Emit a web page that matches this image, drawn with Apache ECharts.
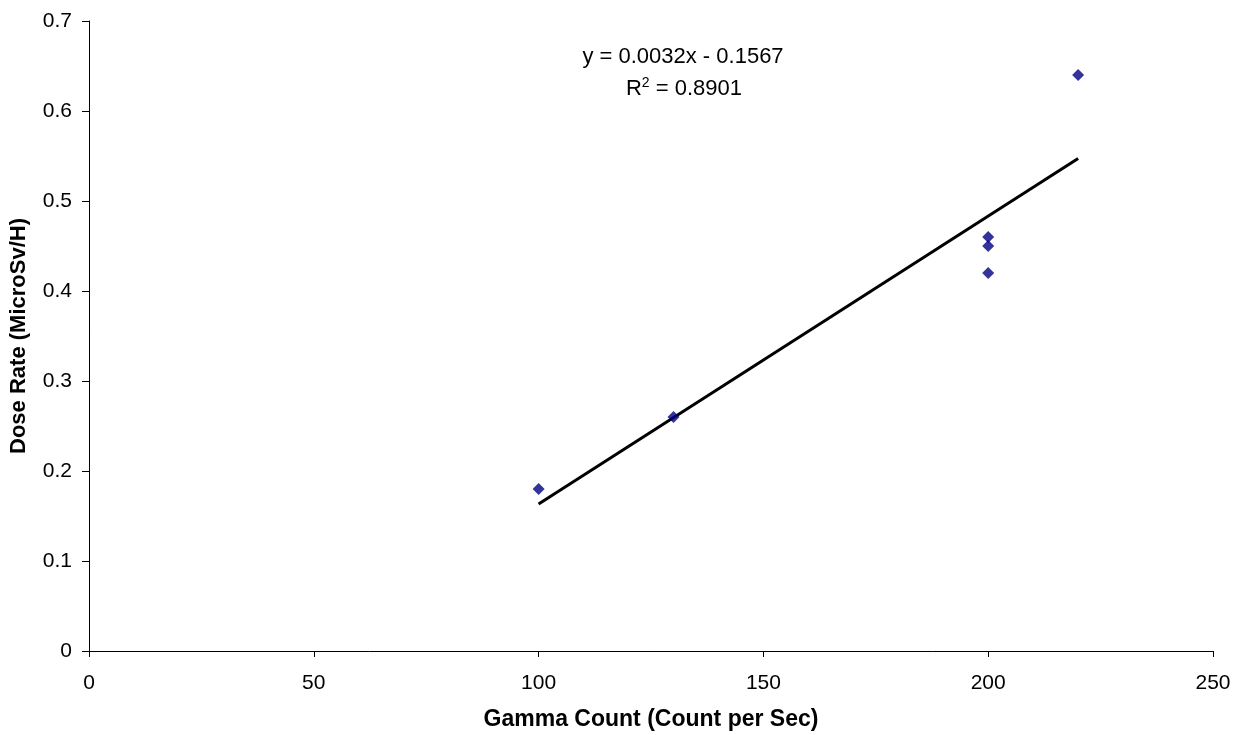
<!DOCTYPE html>
<html>
<head>
<meta charset="utf-8">
<title>Dose Rate vs Gamma Count</title>
<script src="https://cdn.jsdelivr.net/npm/echarts@6/dist/echarts.min.js"></script>
<style>
  html, body { margin: 0; padding: 0; background: #fff; }
  #chart { width: 1240px; height: 735px; }
</style>
</head>
<body>
<div id="chart"></div>
<script>
// Measured gamma counts (counts per second) and dose rates (microSv/h)
const gammaCount = [100, 130, 200, 200, 200, 220];
const doseRate = [0.18, 0.26, 0.42, 0.45, 0.46, 0.64];

// Linear fit reported for the data
const fitSlope = 0.0032;
const fitIntercept = -0.1567;
const fitR2 = 0.8901;
const fitRange = [100, 220];

const points = gammaCount.map((x, i) => [x, doseRate[i]]);
const fitLine = fitRange.map(x => [x, fitSlope * x + fitIntercept]);

const FONT = '"Liberation Sans", Arial, sans-serif';

const chart = echarts.init(document.getElementById('chart'), null, { renderer: 'canvas' });

chart.setOption({
  backgroundColor: '#ffffff',
  animation: false,
  grid: { left: 89, right: 27, top: 21, bottom: 84, containLabel: false, outerBoundsMode: 'none' },
  xAxis: {
    type: 'value',
    min: 0, max: 250, interval: 50,
    name: 'Gamma Count (Count per Sec)',
    nameLocation: 'middle',
    nameGap: 57,
    nameTextStyle: { fontFamily: FONT, fontSize: 23, fontWeight: 'bold', color: '#000' },
    axisLine: { show: true, onZero: false, lineStyle: { color: '#000', width: 1 } },
    axisTick: { show: true, inside: false, length: 6, lineStyle: { color: '#000' } },
    axisLabel: { fontFamily: FONT, fontSize: 21, color: '#000', margin: 22 },
    splitLine: { show: false }
  },
  yAxis: {
    type: 'value',
    min: 0, max: 0.7, interval: 0.1,
    name: 'Dose Rate (MicroSv/H)',
    nameLocation: 'middle',
    nameGap: 59,
    nameTextStyle: { fontFamily: FONT, fontSize: 22, fontWeight: 'bold', color: '#000' },
    axisLine: { show: true, lineStyle: { color: '#000', width: 1 } },
    axisTick: { show: true, inside: false, length: 7, lineStyle: { color: '#000' } },
    axisLabel: { fontFamily: FONT, fontSize: 21, color: '#000', margin: 17,
      formatter: v => (Math.round(v * 10) / 10).toString() },
    splitLine: { show: false }
  },
  series: [
    {
      name: 'Fit',
      type: 'line',
      data: fitLine,
      symbol: 'none',
      lineStyle: { color: '#000', width: 3 },
      z: 2
    },
    {
      name: 'Dose Rate',
      type: 'scatter',
      data: points,
      symbol: 'diamond',
      symbolSize: 12,
      itemStyle: { color: '#000080' },
      z: 3
    }
  ],
  graphic: [
    {
      type: 'text',
      x: 683, y: 57,
      style: {
        text: 'y = ' + fitSlope.toFixed(4) + 'x - ' + Math.abs(fitIntercept).toFixed(4),
        font: '22px ' + FONT,
        fill: '#000',
        align: 'center',
        verticalAlign: 'middle'
      }
    },
    {
      type: 'text',
      x: 684, y: 88,
      style: {
        text: '{b|R}{s|2}{b| = ' + fitR2.toFixed(4) + '}',
        align: 'center',
        verticalAlign: 'middle',
        rich: {
          b: { fontFamily: FONT, fontSize: 22, fill: '#000', color: '#000', verticalAlign: 'bottom', lineHeight: 24 },
          s: { fontFamily: FONT, fontSize: 14, fill: '#000', color: '#000', verticalAlign: 'top', lineHeight: 24, padding: [0, 0, 10, 0] }
        }
      }
    }
  ]
});
</script>
</body>
</html>
